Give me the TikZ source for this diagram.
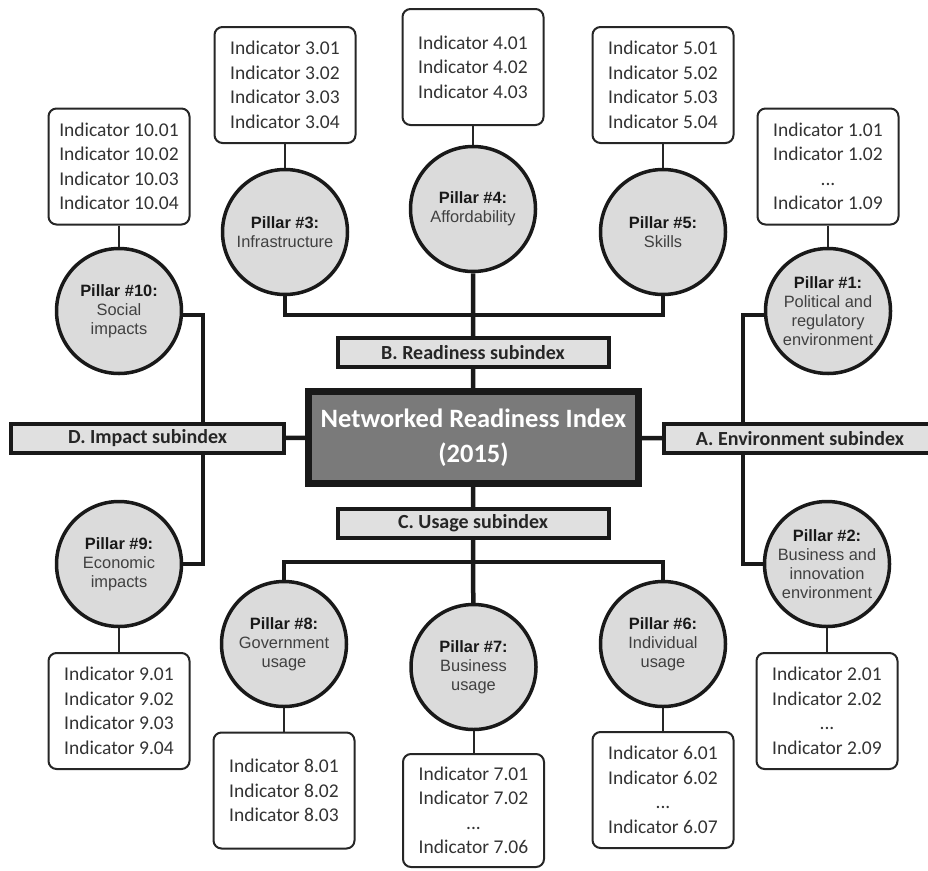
\documentclass[tikz,border=0pt]{standalone}
\usepackage{fontspec}
\setmainfont{Carlito}
\newfontfamily\arialf{Liberation Sans}
\usetikzlibrary{backgrounds}
\begin{document}
\begin{tikzpicture}[x=1pt,y=-1pt,
 indbox/.style={draw=black!85, line width=2pt, rounded corners=8pt, fill=white, minimum width=141pt, minimum height=116pt, align=center, font=\fontsize{19.5}{24.5}\selectfont, text=black!80, inner sep=0pt},
 pillar/.style={circle, draw=black!90, line width=3.5pt, fill=black!14, minimum size=125pt, inner sep=0pt, align=center, font=\arialf\fontsize{16.4}{19}\selectfont, text=black!75},
 subbox/.style={draw=black!90, line width=4pt, fill=black!12, minimum height=29pt, inner sep=0pt, font=\bfseries\fontsize{20}{22}\selectfont, text=black!85},
 mainbox/.style={draw=black!90, line width=7pt, fill=black!52, minimum width=330pt, minimum height=92pt, inner sep=0pt, align=center, font=\bfseries\fontsize{26.5}{35}\selectfont, text=white},
 conn/.style={line width=4.5pt, draw=black!90},
 tconn/.style={line width=2pt, draw=black!85}
]
\path[use as bounding box, clip] (0,0) rectangle (928,870);

% central and subindex boxes
\node[mainbox] (nri) at (473.5,437.5) {Networked Readiness Index\\(2015)};
\node[subbox, minimum width=271pt] (B) at (473,352.5) {B. Readiness subindex};
\node[subbox, minimum width=271pt] (C) at (473,523.5) {C. Usage subindex};
\node[subbox, minimum width=273pt] (D) at (147.5,438) {D. Impact subindex};
\node[subbox, minimum width=272pt] (A) at (800,438.5) {A. Environment subindex};

% pillars
\node[pillar] (p3) at (285,232) {\textcolor{black!90}{\textbf{Pillar \#3:}}\\Infrastructure};
\node[pillar] (p4) at (473,209) {\textcolor{black!90}{\textbf{Pillar \#4:}}\\Affordability};
\node[pillar] (p5) at (663,232) {\textcolor{black!90}{\textbf{Pillar \#5:}}\\Skills};
\node[pillar] (p10) at (119,311) {\textcolor{black!90}{\textbf{Pillar \#10:}}\\Social\\impacts};
\node[pillar] (p1) at (828,311) {\textcolor{black!90}{\textbf{Pillar \#1:}}\\Political and\\regulatory\\environment};
\node[pillar] (p9) at (119,564) {\textcolor{black!90}{\textbf{Pillar \#9:}}\\Economic\\impacts};
\node[pillar] (p2) at (827,564) {\textcolor{black!90}{\textbf{Pillar \#2:}}\\Business and\\innovation\\environment};
\node[pillar] (p8) at (284,644) {\textcolor{black!90}{\textbf{Pillar \#8:}}\\Government\\usage};
\node[pillar] (p7) at (473.5,667) {\textcolor{black!90}{\textbf{Pillar \#7:}}\\Business\\usage};
\node[pillar] (p6) at (663,644) {\textcolor{black!90}{\textbf{Pillar \#6:}}\\Individual\\usage};

% indicator boxes
\node[indbox] (i3) at (285,85) {Indicator 3.01\\Indicator 3.02\\Indicator 3.03\\Indicator 3.04};
\node[indbox] (i4) at (473,67) {Indicator 4.01\\Indicator 4.02\\Indicator 4.03};
\node[indbox] (i5) at (663,85) {Indicator 5.01\\Indicator 5.02\\Indicator 5.03\\Indicator 5.04};
\node[indbox] (i10) at (119,166.5) {Indicator 10.01\\Indicator 10.02\\Indicator 10.03\\Indicator 10.04};
\node[indbox] (i1) at (828,166.5) {Indicator 1.01\\Indicator 1.02\\...\\Indicator 1.09};
\node[indbox] (i9) at (119,711) {Indicator 9.01\\Indicator 9.02\\Indicator 9.03\\Indicator 9.04};
\node[indbox] (i2) at (827,711) {Indicator 2.01\\Indicator 2.02\\...\\Indicator 2.09};
\node[indbox] (i8) at (284,790.5) {Indicator 8.01\\Indicator 8.02\\Indicator 8.03};
\node[indbox, minimum height=113pt] (i7) at (473.5,810.5) {Indicator 7.01\\Indicator 7.02\\...\\Indicator 7.06};
\node[indbox] (i6) at (663,790) {Indicator 6.01\\Indicator 6.02\\...\\Indicator 6.07};

\coordinate (topbar) at (473,315);
\coordinate (botbar) at (473,562);
\coordinate (lbar) at (203,315);
\coordinate (rbar) at (743,315);

\begin{scope}[on background layer]
\draw[conn] (p3) |- (topbar) -| (p5);
\draw[conn] (p4) -- (topbar) -- (B) -- (nri) -- (C) -- (p7);
\draw[conn] (p8) |- (botbar) -| (p6);
\draw[conn] (p10 |- lbar) -- (lbar) |- (p9);
\draw[conn] (p1 |- rbar) -- (rbar) |- (p2);
\draw[conn] (D) -- (nri) -- (A);
\draw[tconn] (i3) -- (p3);
\draw[tconn] (i4) -- (p4);
\draw[tconn] (i5) -- (p5);
\draw[tconn] (i10) -- (p10);
\draw[tconn] (i1) -- (p1);
\draw[tconn] (i9) -- (p9);
\draw[tconn] (i2) -- (p2);
\draw[tconn] (i8) -- (p8);
\draw[tconn] (i7) -- (p7);
\draw[tconn] (i6) -- (p6);
\end{scope}
\end{tikzpicture}
\end{document}
